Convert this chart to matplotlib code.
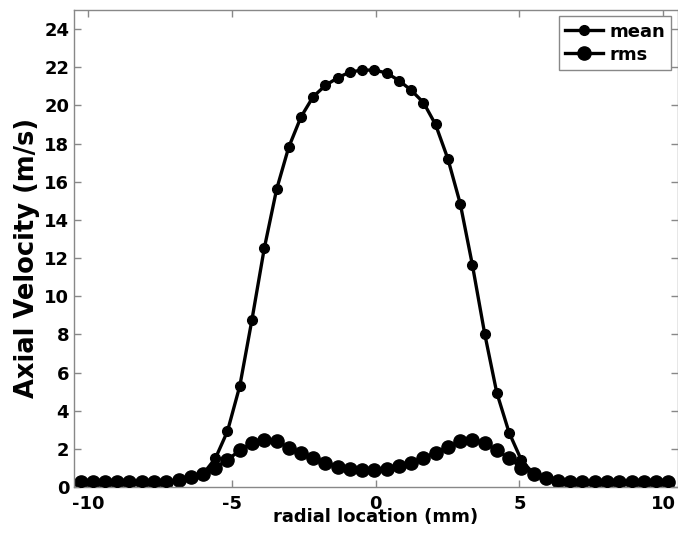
import matplotlib
matplotlib.use('Agg')
import matplotlib.pyplot as plt

plt.rcParams['font.family'] = ['DejaVu Sans']
plt.rcParams['font.weight'] = 'bold'
plt.rcParams['axes.unicode_minus'] = False

# radial positions (mm), same grid for both series
radial_mm = [-10.27, -9.84, -9.42, -8.99, -8.57, -8.14, -7.71, -7.29, -6.86, -6.44,
             -6.01, -5.58, -5.16, -4.73, -4.31, -3.88, -3.45, -3.03, -2.60, -2.18,
             -1.75, -1.32, -0.90, -0.47, -0.05, 0.38, 0.81, 1.23, 1.66, 2.08,
             2.51, 2.94, 3.36, 3.79, 4.21, 4.64, 5.07, 5.49, 5.92, 6.34,
             6.77, 7.19, 7.62, 8.05, 8.47, 8.90, 9.32, 9.75, 10.17]

mean_vel = [0.25, 0.25, 0.25, 0.25, 0.25, 0.25, 0.25, 0.27, 0.38, 0.50,
            0.68, 1.50, 2.92, 5.30, 8.75, 12.50, 15.60, 17.80, 19.40, 20.45,
            21.05, 21.45, 21.75, 21.85, 21.85, 21.70, 21.30, 20.80, 20.15, 19.00,
            17.20, 14.85, 11.66, 8.04, 4.95, 2.85, 1.40, 0.70, 0.45, 0.32,
            0.25, 0.25, 0.25, 0.25, 0.25, 0.25, 0.25, 0.25, 0.25]

rms_vel = [0.26, 0.26, 0.26, 0.26, 0.26, 0.26, 0.26, 0.27, 0.35, 0.50,
           0.70, 1.02, 1.42, 1.92, 2.30, 2.47, 2.40, 2.07, 1.80, 1.53,
           1.27, 1.07, 0.92, 0.88, 0.91, 0.96, 1.09, 1.28, 1.54, 1.80,
           2.10, 2.40, 2.48, 2.31, 1.93, 1.50, 1.02, 0.69, 0.48, 0.31,
           0.26, 0.26, 0.26, 0.26, 0.26, 0.26, 0.26, 0.26, 0.26]

x_ticks = [-10, -5, 0, 5, 10]
y_ticks = list(range(0, 25, 2))

fig = plt.figure(figsize=(6.78, 5.35), dpi=100)
# axes box in pixels: left 74, right 677.5, top 10, bottom 487
ax = fig.add_axes([74/678, 1 - 487/535, 603.5/678, 477/535])

ax.plot(radial_mm, mean_vel, '-', color='black', lw=2.4, marker='o', ms=7, label='mean', zorder=3)
ax.plot(radial_mm, rms_vel, '-', color='black', lw=2.4, marker='o', ms=9.5, label='rms', zorder=2)

ax.set_xlim(-10.5, 10.5)
ax.set_ylim(0, 25)
ax.set_xticks(x_ticks)
ax.set_yticks(y_ticks)

for sp in ax.spines.values():
    sp.set_color('#888888'); sp.set_linewidth(1.0)
ax.tick_params(direction='in', length=5, width=1, color='#888888',
               top=True, right=True, labelsize=13)
ax.tick_params(axis='x', pad=6)
ax.tick_params(axis='y', pad=3.5)
for lb in ax.get_xticklabels() + ax.get_yticklabels():
    lb.set_fontweight('bold')

ax.set_xlabel('radial location (mm)', fontsize=13, fontweight='bold', va='center')
ax.xaxis.set_label_coords(0.5, -0.063)
ax.set_ylabel('Axial Velocity (m/s)', fontsize=18.5, fontweight='bold')
ax.yaxis.set_label_coords(-0.056, 0.481)

leg = ax.legend(loc='upper right', frameon=True, fancybox=False,
                handlelength=2.1, handletextpad=0.32, borderpad=0.35, labelspacing=0.28,
                borderaxespad=0.35, prop={'weight': 'bold', 'size': 13})
leg.get_frame().set_edgecolor('#888888')
leg.get_frame().set_linewidth(1.0)
leg.get_frame().set_alpha(1.0)

fig.savefig('out.png', dpi=100)
